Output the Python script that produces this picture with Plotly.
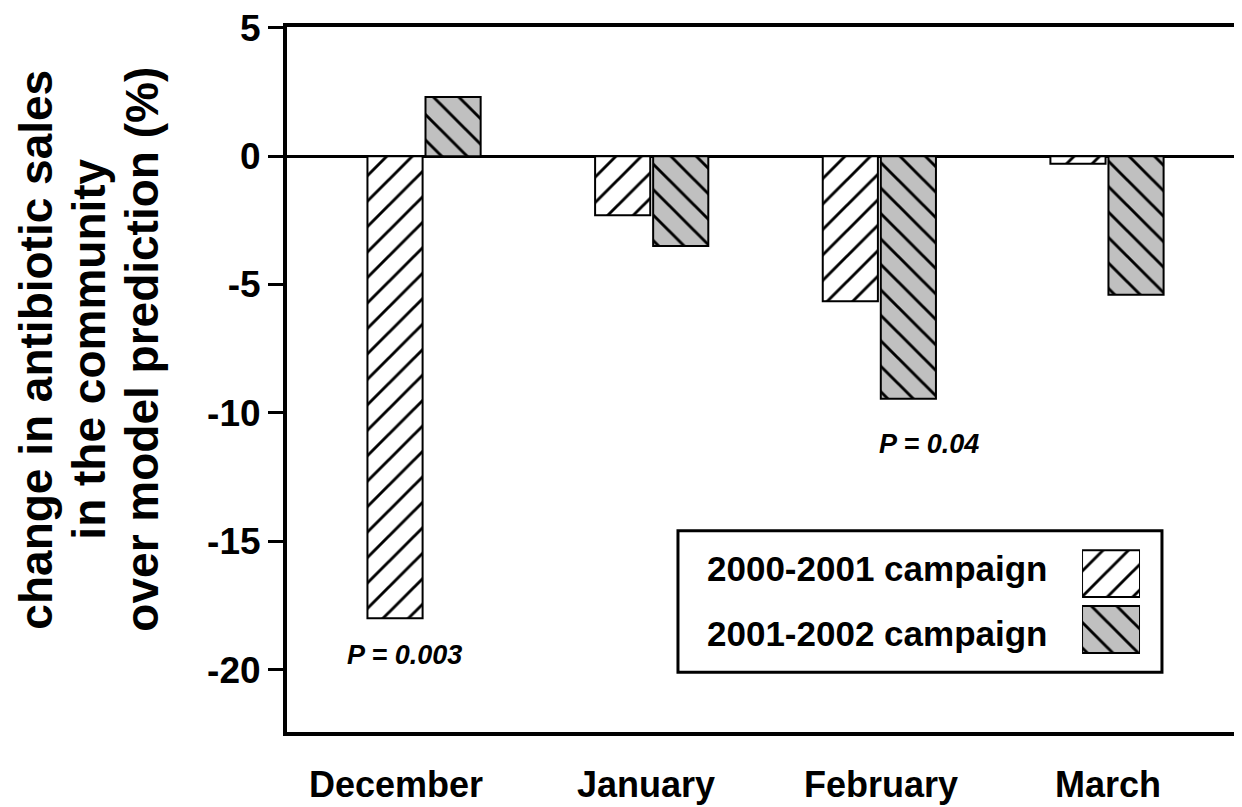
import plotly.graph_objects as go

months = ["December", "January", "February", "March"]
campaign_2000_2001 = [-18.0, -2.3, -5.65, -0.3]
campaign_2001_2002 = [2.3, -3.5, -9.45, -5.4]
series_names = ["2000-2001 campaign", "2001-2002 campaign"]
y_ticks = [5, 0, -5, -10, -15, -20]
p_labels = ["P = 0.003", "P = 0.04"]
p_months = ["December", "February"]
p_values_y = [-19.45, -11.2]
title_lines = ["change in antibiotic sales", "in the community", "over model prediction (%)"]

FONT = "Liberation Sans, Arial, sans-serif"
GRAY = "#c0c0c0"
PAT_SIZE = 18
PAT_SOLID = 0.16


def pattern(shape, bg):
    return dict(shape=shape, fgcolor="black", bgcolor=bg, fgopacity=1,
                size=PAT_SIZE, solidity=PAT_SOLID, fillmode="replace")


fig = go.Figure()

fig.add_trace(go.Bar(
    x=months, y=campaign_2000_2001, name=series_names[0],
    marker=dict(color="white", line=dict(color="black", width=2), pattern=pattern("/", "white")),
    showlegend=False,
))
fig.add_trace(go.Bar(
    x=months, y=campaign_2001_2002, name=series_names[1],
    marker=dict(color=GRAY, line=dict(color="black", width=2), pattern=pattern("\\", GRAY)),
    showlegend=False,
))

# legend swatches in a small inset axis
fig.add_trace(go.Bar(
    x=[1], y=[series_names[0]], orientation="h", xaxis="x2", yaxis="y2",
    marker=dict(color="white", line=dict(color="black", width=2), pattern=pattern("/", "white")),
    showlegend=False, hoverinfo="skip",
))
fig.add_trace(go.Bar(
    x=[1], y=[series_names[1]], orientation="h", xaxis="x2", yaxis="y2",
    marker=dict(color=GRAY, line=dict(color="black", width=2), pattern=pattern("\\", GRAY)),
    showlegend=False, hoverinfo="skip",
))

annotations = []
# month labels
month_shift = [-28, -6, 2, 1]
for m, s in zip(months, month_shift):
    annotations.append(dict(x=m, xref="x", y=-0.0749, yref="paper", text=m, showarrow=False,
                            xshift=s, xanchor="center", yanchor="middle",
                            font=dict(family=FONT, size=36, color="black", weight="bold")))
# P values
p_shift = [-20, 50]
for lab, m, yv, s in zip(p_labels, p_months, p_values_y, p_shift):
    annotations.append(dict(x=m, xref="x", y=yv, yref="y", text="<i>" + lab + "</i>", showarrow=False,
                            xshift=s, yanchor="middle",
                            font=dict(family=FONT, size=27, color="black", weight="bold")))
# legend texts
for name, yy in zip(series_names, [0.2316, 0.1398]):
    annotations.append(dict(x=0.4377, xref="paper", y=yy, yref="paper", text=name, showarrow=False,
                            xanchor="left", yanchor="middle",
                            font=dict(family=FONT, size=35, color="black", weight="bold")))
# y title (three lines)
for line, xx in zip(title_lines, [-0.2628, -0.2073, -0.1518]):
    annotations.append(dict(x=xx, xref="paper", y=0.5424, yref="paper", text=line,
                            textangle=-90, showarrow=False, xanchor="center", yanchor="middle",
                            font=dict(family=FONT, size=46, color="black", weight="bold")))

fig.update_layout(
    width=1234, height=799,
    margin=dict(l=279, r=0, t=16, b=75),
    paper_bgcolor="white", plot_bgcolor="white",
    barmode="group", bargap=0.49, bargroupgap=0.05,
    xaxis=dict(type="category", range=[-0.602, 3.593], showticklabels=False, ticks="",
               showline=True, linecolor="black", linewidth=4, mirror=True, showgrid=False,
               zeroline=False),
    yaxis=dict(range=[-22.43, 5.03], tickvals=y_ticks, ticktext=[str(v) for v in y_ticks],
               ticks="outside", ticklen=15, tickwidth=3, tickcolor="black",
               ticklabeloverflow="allow",
               showline=True, linecolor="black", linewidth=4, showgrid=False,
               zeroline=True, zerolinecolor="black", zerolinewidth=3,
               tickfont=dict(family=FONT, size=37, color="black", weight="bold")),
    xaxis2=dict(domain=[0.8325, 0.8932], range=[0, 1], anchor="y2", visible=False, fixedrange=True),
    yaxis2=dict(domain=[0.1059, 0.2641], anchor="x2", type="category", autorange="reversed",
                visible=False, fixedrange=True),
    annotations=annotations,
    shapes=[dict(type="rect", xref="paper", yref="paper", x0=0.4094, x1=0.9162, y0=0.0847, y1=0.2853,
                 line=dict(color="black", width=3), fillcolor="rgba(0,0,0,0)")],
)
fig.update_traces(selector=dict(xaxis="x2"), width=0.84)

fig.write_html("out.html")
